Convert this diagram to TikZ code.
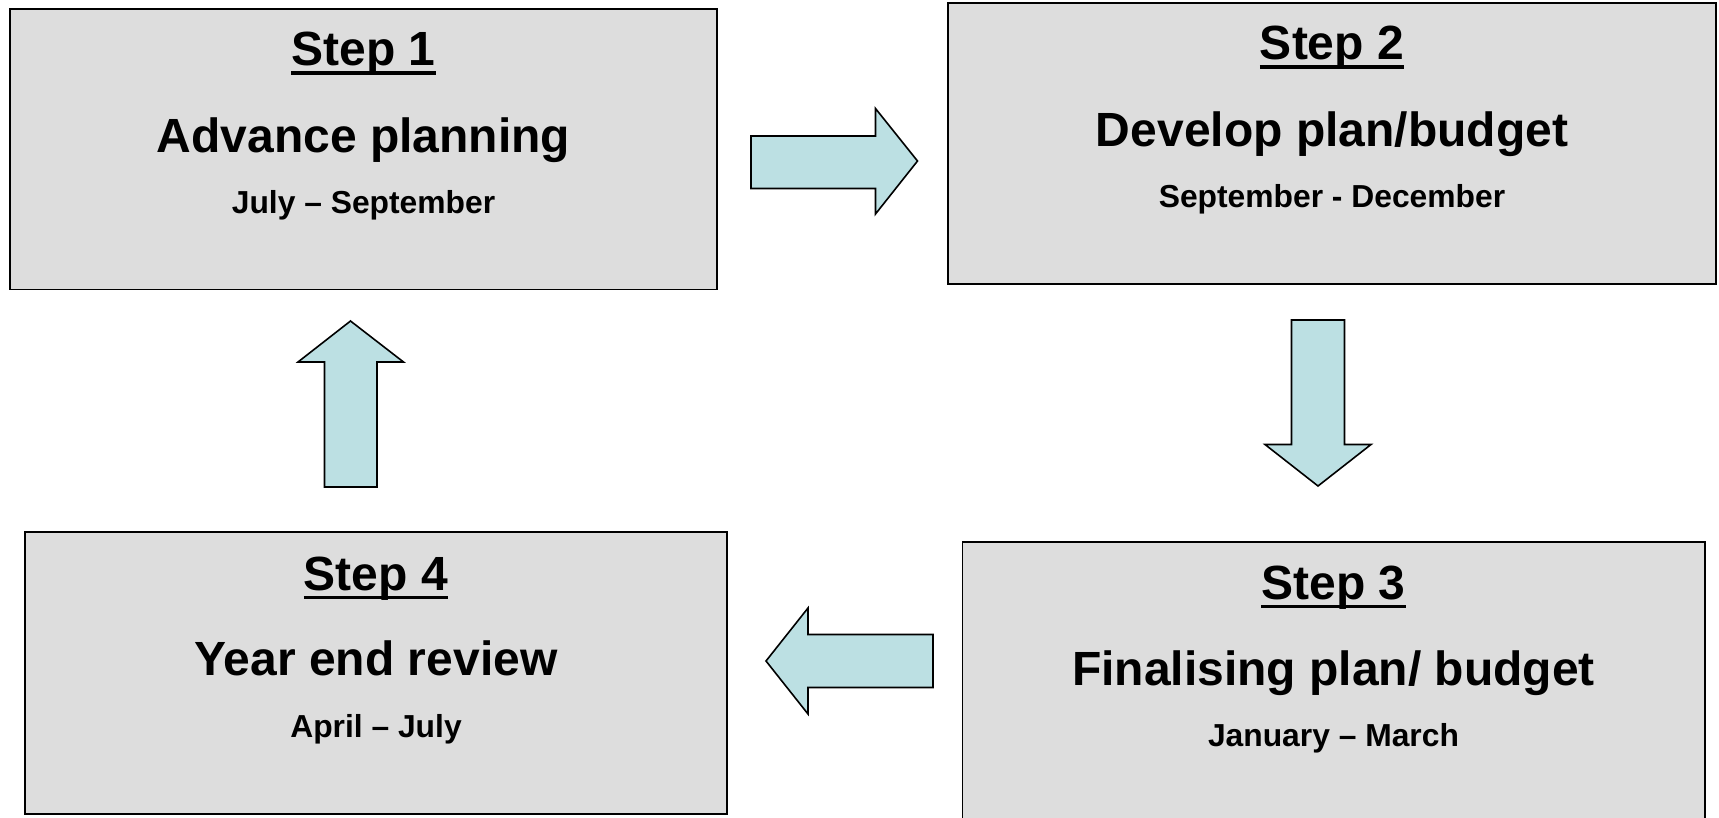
\documentclass[tikz,border=0pt]{standalone}
\usepackage{fontspec}
\setmainfont{Liberation Sans}
\definecolor{boxgray}{HTML}{DDDDDD}
\definecolor{arrowblue}{HTML}{BCE0E3}
\newcommand{\stepul}[1]{{\setbox0\hbox{#1}\rlap{\rule[-0.19em]{\wd0}{0.075em}}\box0}}
\tikzset{
  stepbox/.style={draw=black, line width=1.6pt, fill=boxgray, rectangle, inner sep=0pt},
  blockarrow/.style={draw=black, line width=1.6pt, fill=arrowblue, line join=miter},
  steptitle/.style={anchor=base, inner sep=0pt, font=\fontsize{48}{58}\selectfont\bfseries},
  stepname/.style={anchor=base, inner sep=0pt, font=\fontsize{48}{58}\selectfont\bfseries},
  stepdate/.style={anchor=base, inner sep=0pt, font=\fontsize{31.8}{38}\selectfont\bfseries},
}
\begin{document}
\begin{tikzpicture}[x=1pt,y=-1pt]
\useasboundingbox (0,0) rectangle (1719,817);
% boxes
\node[stepbox, minimum width=707pt, minimum height=280.6pt] (b1) at (363.5,149.1) {};
\node[stepbox, minimum width=768pt, minimum height=281pt] (b2) at (1332,143.3) {};
\node[stepbox, minimum width=742.5pt, minimum height=290pt] (b3) at (1333.7,686.7) {};
\node[stepbox, minimum width=702pt, minimum height=281.7pt] (b4) at (376.1,673.1) {};
% box 1 texts
\node[steptitle] (t1a) at (363.5,65.8) {\stepul{Step 1}};
\node[stepname] (t1b) at (363.5,152.3) {Advance planning};
\node[stepdate] (t1c) at (363.5,213) {July – September};
% box 2 texts
\node[steptitle] (t2a) at (1332,59.8) {\stepul{Step 2}};
\node[stepname] (t2b) at (1332,146.8) {Develop plan/budget};
\node[stepdate] (t2c) at (1332,207.5) {September - December};
% box 3 texts
\node[steptitle] (t3a) at (1333.5,599) {\stepul{Step 3}};
\node[stepname] (t3b) at (1333.5,685.2) {Finalising plan/ budget};
\node[stepdate] (t3c) at (1333.5,746.5) {January – March};
% box 4 texts
\node[steptitle] (t4a) at (376,590) {\stepul{Step 4}};
\node[stepname] (t4b) at (376,675.3) {Year end review};
\node[stepdate] (t4c) at (376,737.3) {April – July};
% block arrows
\draw[blockarrow] (751,136) -- (875.5,136) -- (875.5,108.5) -- (917.5,161) -- (875.5,214) -- (875.5,188.5) -- (751,188.5) -- cycle;
\draw[blockarrow] (1291.5,320) -- (1344.5,320) -- (1344.5,444.5) -- (1371,444.5) -- (1318,486) -- (1265,444.5) -- (1291.5,444.5) -- cycle;
\draw[blockarrow] (933,634.5) -- (933,687.5) -- (808,687.5) -- (808,714) -- (766,661) -- (808,608) -- (808,634.5) -- cycle;
\draw[blockarrow] (324.5,487) -- (324.5,362) -- (298,362) -- (350.5,321) -- (403.5,362) -- (377,362) -- (377,487) -- cycle;
\end{tikzpicture}
\end{document}
